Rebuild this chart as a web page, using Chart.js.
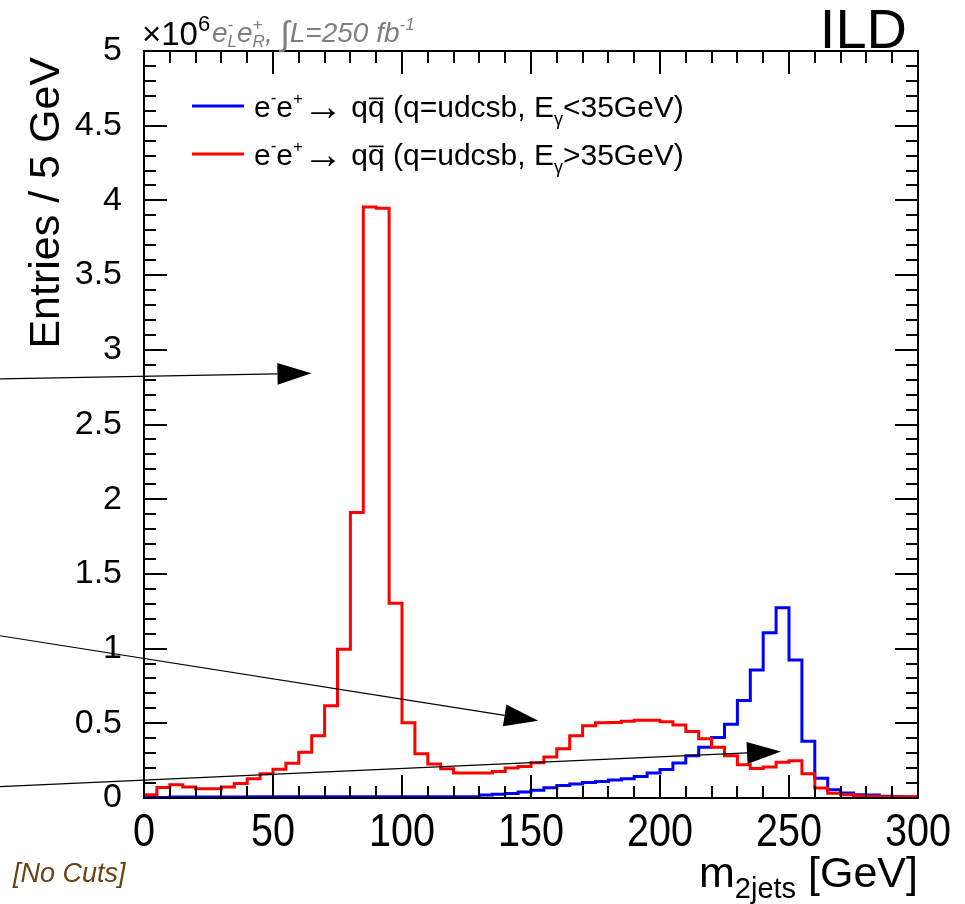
<!DOCTYPE html>
<html>
<head>
<meta charset="utf-8">
<script src="https://cdn.jsdelivr.net/npm/chart.js@4.4.1/dist/chart.umd.min.js"></script>
<style>
html,body{margin:0;padding:0;background:#fff;}
canvas{display:block;}
</style>
</head>
<body>
<canvas id="c" width="965" height="904"></canvas>
<script>
// ---- data (entries in units of 10^6 per 5 GeV bin) ----
const binWidth = 5;
const xMin = 0, xMax = 300;
const yMin = 0, yMax = 5;
const xTickLabels = [0, 50, 100, 150, 200, 250, 300];
const yTickLabels = [0, 0.5, 1, 1.5, 2, 2.5, 3, 3.5, 4, 4.5, 5];

// E_gamma > 35 GeV (red)
const redValues = [
  0.022, 0.071, 0.089, 0.073, 0.062, 0.062, 0.073, 0.097, 0.129, 0.162,
  0.193, 0.233, 0.307, 0.416, 0.618, 0.995, 1.911, 3.955, 3.948, 1.304,
  0.503, 0.296, 0.227, 0.196, 0.167, 0.167, 0.167, 0.177, 0.200, 0.211,
  0.236, 0.274, 0.329, 0.416, 0.483, 0.503, 0.505, 0.514, 0.520, 0.520,
  0.511, 0.489, 0.445, 0.396, 0.340, 0.282, 0.222, 0.198, 0.207, 0.240,
  0.249, 0.162, 0.067, 0.031, 0.022, 0.015, 0.011, 0.009, 0.008, 0.008
];
// E_gamma < 35 GeV (blue)
const blueValues = [
  0.004, 0.004, 0.006, 0.006, 0.006, 0.006, 0.007, 0.007, 0.008, 0.008,
  0.008, 0.008, 0.008, 0.008, 0.008, 0.008, 0.008, 0.008, 0.008, 0.008,
  0.008, 0.008, 0.008, 0.008, 0.008, 0.008, 0.020, 0.025, 0.030, 0.040,
  0.052, 0.069, 0.084, 0.093, 0.104, 0.111, 0.120, 0.129, 0.144, 0.167,
  0.191, 0.234, 0.282, 0.340, 0.405, 0.494, 0.652, 0.857, 1.106, 1.273,
  0.923, 0.380, 0.133, 0.055, 0.033, 0.022, 0.020, 0.012, 0.008, 0.006
];

const seriesLabels = ['e-e+ -> qqbar (q=udcsb, Egamma<35GeV)', 'e-e+ -> qqbar (q=udcsb, Egamma>35GeV)'];

// annotation arrows, in data coordinates (GeV, 10^6 entries)
const arrowTails = [[-55.8, 2.805], [-55.8, 1.086], [-55.8, 0.076]];
const arrowTips  = [[64.9, 2.843], [152.8, 0.517], [246.9, 0.312]];

// ---- helpers ----
const FONT = "'Liberation Sans', Arial, Helvetica, sans-serif";

function histPoints(values) {
  const pts = [{x: xMin, y: 0}];
  values.forEach((v, i) => pts.push({x: xMin + (i + 1) * binWidth, y: v}));
  pts.push({x: xMax, y: 0});
  return pts;
}

function font(size, italic) {
  return (italic ? 'italic ' : '') + size + 'px ' + FONT;
}

// rich text: parts = [{t, s, dy, it, ov, adv}]
function richWidth(ctx, parts) {
  let w = 0;
  for (const p of parts) {
    ctx.font = font(p.s, p.it);
    const m = ctx.measureText(p.t).width;
    w += (p.adv === undefined ? m : p.adv);
  }
  return w;
}
function drawRich(ctx, parts, x, y, align) {
  let cx = x;
  if (align === 'right') cx = x - richWidth(ctx, parts);
  ctx.textAlign = 'left';
  ctx.textBaseline = 'alphabetic';
  for (const p of parts) {
    ctx.font = font(p.s, p.it);
    const m = ctx.measureText(p.t).width;
    ctx.fillText(p.t, cx, y + (p.dy || 0));
    if (p.ov) {
      ctx.save();
      ctx.lineWidth = 1.6;
      ctx.strokeStyle = ctx.fillStyle;
      ctx.beginPath();
      ctx.moveTo(cx + 1, y - p.s * 0.62);
      ctx.lineTo(cx + m - 1, y - p.s * 0.62);
      ctx.stroke();
      ctx.restore();
    }
    cx += (p.adv === undefined ? m : p.adv);
  }
}

function legendParts(sign) {
  const s = 30;
  return [
    {t: 'e', s: s},
    {t: '-', s: 17, dy: -14},
    {t: 'e', s: s},
    {t: '+', s: 17, dy: -13},
    {t: '\u2192', s: 40, dy: 3},
    {t: ' q', s: s},
    {t: 'q', s: s, ov: true},
    {t: ' (q=udcsb, E', s: s},
    {t: '\u03b3', s: 18, dy: 8},
    {t: sign + '35GeV)', s: s}
  ];
}

const decor = {
  id: 'decor',
  afterDraw(chart) {
    const {ctx, chartArea: a, scales} = chart;
    const xs = scales.x, ys = scales.y;
    ctx.save();

    // ticks (inside frame, mirrored on all four sides)
    ctx.strokeStyle = '#000';
    ctx.lineWidth = 2;
    ctx.beginPath();
    for (let v = xMin; v <= xMax + 1e-6; v += 10) {
      const px = Math.round(xs.getPixelForValue(v));
      const L = (v % 50 === 0) ? 23 : 12;
      ctx.moveTo(px, a.bottom); ctx.lineTo(px, a.bottom - L);
      ctx.moveTo(px, a.top); ctx.lineTo(px, a.top + L);
    }
    for (let k = 0; k <= 50; k++) {
      const v = k * 0.1;
      const py = Math.round(ys.getPixelForValue(v));
      const L = (k % 5 === 0) ? 23 : 12;
      ctx.moveTo(a.left, py); ctx.lineTo(a.left + L, py);
      ctx.moveTo(a.right, py); ctx.lineTo(a.right - L, py);
    }
    ctx.stroke();

    // frame
    ctx.lineWidth = 2;
    ctx.strokeRect(a.left, a.top, a.right - a.left, a.bottom - a.top);

    // x tick labels (slightly condensed, drawn at the scale's tick positions)
    ctx.fillStyle = '#000';
    ctx.font = font(46);
    ctx.textAlign = 'center';
    ctx.textBaseline = 'alphabetic';
    for (const t of xs.ticks) {
      const px = xs.getPixelForValue(t.value);
      ctx.save();
      ctx.translate(px, a.bottom + 48);
      ctx.scale(0.86, 1);
      ctx.fillText(String(t.value), 0, 0);
      ctx.restore();
    }

    // arrows
    for (let i = 0; i < arrowTails.length; i++) {
      const x0 = xs.getPixelForValue(arrowTails[i][0]);
      const y0 = ys.getPixelForValue(arrowTails[i][1]);
      const x1 = xs.getPixelForValue(arrowTips[i][0]);
      const y1 = ys.getPixelForValue(arrowTips[i][1]);
      const dx = x1 - x0, dy = y1 - y0;
      const len = Math.hypot(dx, dy);
      const ux = dx / len, uy = dy / len;
      const hl = 34, hw = 11;
      const bx = x1 - ux * hl, by = y1 - uy * hl;
      ctx.strokeStyle = '#000';
      ctx.lineWidth = 1.2;
      ctx.beginPath();
      ctx.moveTo(x0, y0); ctx.lineTo(bx, by);
      ctx.stroke();
      ctx.fillStyle = '#000';
      ctx.beginPath();
      ctx.moveTo(x1, y1);
      ctx.lineTo(bx - uy * hw, by + ux * hw);
      ctx.lineTo(bx + uy * hw, by - ux * hw);
      ctx.closePath();
      ctx.fill();
    }

    // legend
    const colors = ['#0000ff', '#ff0000'];
    const signs = ['<', '>'];
    for (let i = 0; i < 2; i++) {
      const ly = 106 + i * 48;
      ctx.strokeStyle = colors[i];
      ctx.lineWidth = 3;
      ctx.beginPath();
      ctx.moveTo(192, ly); ctx.lineTo(244, ly);
      ctx.stroke();
      ctx.fillStyle = '#000';
      drawRich(ctx, legendParts(signs[i]), 254, ly + 11, 'left');
    }

    // header: x10^6 and luminosity text
    ctx.fillStyle = '#000';
    drawRich(ctx, [
      {t: '\u00d710', s: 33},
      {t: '6', s: 22, dy: -14}
    ], 142, 45, 'left');
    ctx.fillStyle = '#7f7f7f';
    drawRich(ctx, [
      {t: 'e', s: 28, it: true},
      {t: '-', s: 17, dy: -12, it: true, adv: 0},
      {t: 'L', s: 17, dy: 5, it: true},
      {t: 'e', s: 28, it: true},
      {t: '+', s: 17, dy: -12, it: true, adv: 0},
      {t: 'R', s: 17, dy: 5, it: true},
      {t: ', ', s: 28, it: true},
      {t: '\u222b', s: 34, dy: 3},
      {t: 'L=250 fb', s: 28, it: true},
      {t: '-1', s: 17, dy: -12, it: true}
    ], 212, 42, 'left');

    // ILD
    ctx.fillStyle = '#000';
    ctx.font = font(56);
    ctx.textAlign = 'right';
    ctx.textBaseline = 'alphabetic';
    ctx.fillText('ILD', 907, 48);

    // y title
    ctx.save();
    ctx.translate(59, 57);
    ctx.rotate(-Math.PI / 2);
    ctx.font = font(43);
    ctx.textAlign = 'right';
    ctx.textBaseline = 'alphabetic';
    ctx.fillText('Entries / 5 GeV', 0, 0);
    ctx.restore();

    // x title
    ctx.fillStyle = '#000';
    drawRich(ctx, [
      {t: 'm', s: 43},
      {t: '2jets', s: 29, dy: 11},
      {t: ' [GeV]', s: 43}
    ], 918, 887, 'right');

    // [No Cuts]
    ctx.fillStyle = '#6b4312';
    ctx.font = font(27, true);
    ctx.textAlign = 'left';
    ctx.fillText('[No Cuts]', 13, 882);

    ctx.restore();
  }
};

new Chart(document.getElementById('c'), {
  type: 'line',
  data: {
    datasets: [
      {
        label: seriesLabels[0],
        data: histPoints(blueValues),
        borderColor: '#0000ff',
        borderWidth: 3,
        stepped: 'after',
        pointRadius: 0,
        fill: false,
        order: 1
      },
      {
        label: seriesLabels[1],
        data: histPoints(redValues),
        borderColor: '#ff0000',
        borderWidth: 3,
        stepped: 'after',
        pointRadius: 0,
        fill: false,
        order: 0
      }
    ]
  },
  options: {
    responsive: false,
    animation: false,
    devicePixelRatio: 1,
    layout: {padding: {top: 51, right: 47, left: 0, bottom: 0}},
    plugins: {legend: {display: false}, tooltip: {enabled: false}, title: {display: false}},
    scales: {
      x: {
        type: 'linear',
        min: xMin, max: xMax,
        grid: {display: false},
        border: {display: false},
        afterFit(s) { s.height = 106; },
        afterBuildTicks(s) { s.ticks = xTickLabels.map(v => ({value: v})); },
        ticks: {
          autoSkip: false, maxRotation: 0, padding: 5,
          color: 'rgba(0,0,0,0)', font: {family: FONT, size: 40}
        }
      },
      y: {
        type: 'linear',
        min: yMin, max: yMax,
        grid: {display: false},
        border: {display: false},
        afterFit(s) { s.width = 144; },
        afterBuildTicks(s) { s.ticks = yTickLabels.map(v => ({value: v})); },
        ticks: {
          padding: 14,
          color: '#000', font: {family: FONT, size: 34},
          callback: v => String(Number(v))
        }
      }
    }
  },
  plugins: [decor]
});
</script>
</body>
</html>
